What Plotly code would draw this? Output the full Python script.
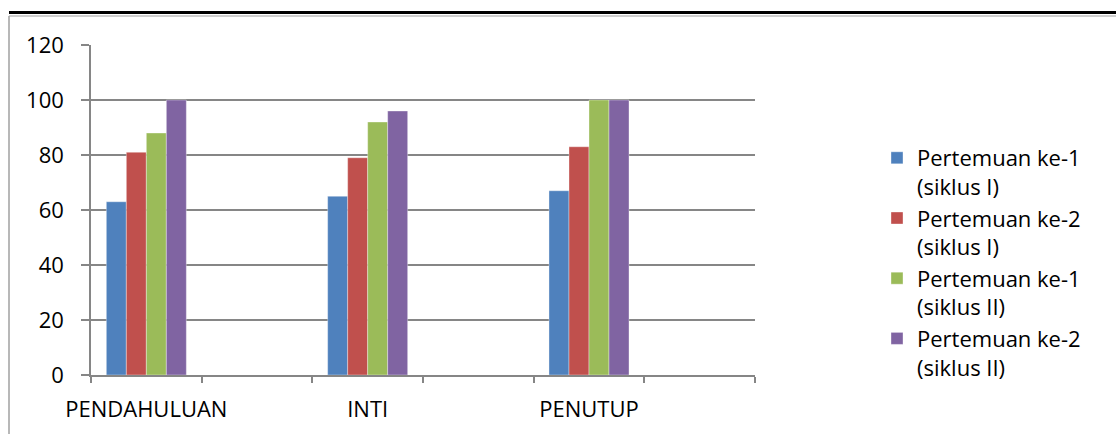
import plotly.graph_objects as go

# Data
categories = ["PENDAHULUAN", " ", "INTI", "  ", "PENUTUP", "   "]
data_categories = ["PENDAHULUAN", "INTI", "PENUTUP"]
series_names = [
    "Pertemuan ke-1<br>(siklus I)",
    "Pertemuan ke-2<br>(siklus I)",
    "Pertemuan ke-1<br>(siklus II)",
    "Pertemuan ke-2<br>(siklus II)",
]
p1_siklus1 = [63, 65, 67]
p2_siklus1 = [81, 79, 83]
p1_siklus2 = [88, 92, 100]
p2_siklus2 = [100, 96, 100]
series_values = [p1_siklus1, p2_siklus1, p1_siklus2, p2_siklus2]
y_ticks = [0, 20, 40, 60, 80, 100, 120]

colors = ["#4F81BD", "#C0504D", "#9BBB59", "#8064A2"]

W, H = 1116, 434
ML, MR, MT, MB = 91, 361, 45, 59
PW = W - ML - MR
PH = H - MT - MB


def px_x(x):
    return (x - ML) / PW


def px_y(y):
    return (H - MB - y) / PH


FONT = "Open Sans"
GRID = "#868686"

fig = go.Figure()
for name, vals, col in zip(series_names, series_values, colors):
    fig.add_trace(go.Bar(
        x=data_categories, y=vals, name=name,
        marker=dict(color=col, line=dict(color="rgba(255,255,255,0.45)", width=0.8)),
    ))

fig.update_layout(
    width=W, height=H,
    margin=dict(l=ML, r=MR, t=MT, b=MB, autoexpand=False),
    paper_bgcolor="white", plot_bgcolor="white",
    barmode="group", bargap=0.277, bargroupgap=0,
    font=dict(family=FONT, size=22, color="#000000"),
    showlegend=True,
    legend=dict(
        x=px_x(877), xanchor="left",
        y=px_y(137), yanchor="top",
        valign="top",
        font=dict(family=FONT, size=22, color="#000000"),
        bgcolor="rgba(0,0,0,0)",
        tracegroupgap=0,
    ),
    xaxis=dict(
        type="category",
        categoryorder="array", categoryarray=categories,
        range=[-0.5, 5.5],
        tickson="boundaries",
        tickangle=0,
        automargin=False,
        ticks="outside", ticklen=6, tickcolor=GRID, tickwidth=1.5,
        showline=True, linecolor=GRID, linewidth=1.5,
        showgrid=False,
        ticklabelstandoff=14,
        tickfont=dict(family=FONT, size=22, color="#000000"),
    ),
    yaxis=dict(
        range=[0, 120],
        tickvals=y_ticks,
        automargin=False,
        ticks="outside", ticklen=8, tickcolor=GRID, tickwidth=1.5,
        showline=True, linecolor=GRID, linewidth=1.5,
        showgrid=True, gridcolor=GRID, gridwidth=1.5,
        zeroline=False,
        ticklabelstandoff=13,
        tickfont=dict(family=FONT, size=22, color="#000000"),
    ),
    shapes=[
        dict(type="line", xref="paper", yref="paper",
             x0=px_x(9), x1=px_x(W), y0=px_y(12.5), y1=px_y(12.5),
             line=dict(color="#000000", width=3)),
        dict(type="line", xref="paper", yref="paper",
             x0=px_x(9), x1=px_x(W), y0=px_y(16), y1=px_y(16),
             line=dict(color="#A0A0A0", width=1.2)),
        dict(type="line", xref="paper", yref="paper",
             x0=px_x(9), x1=px_x(9), y0=px_y(16), y1=px_y(H),
             line=dict(color="#A0A0A0", width=1.5)),
    ],
)

fig.write_html(
    "out.html",
    config={"displayModeBar": False},
    post_script="document.body.style.margin='0px';document.body.style.overflow='hidden';",
)
